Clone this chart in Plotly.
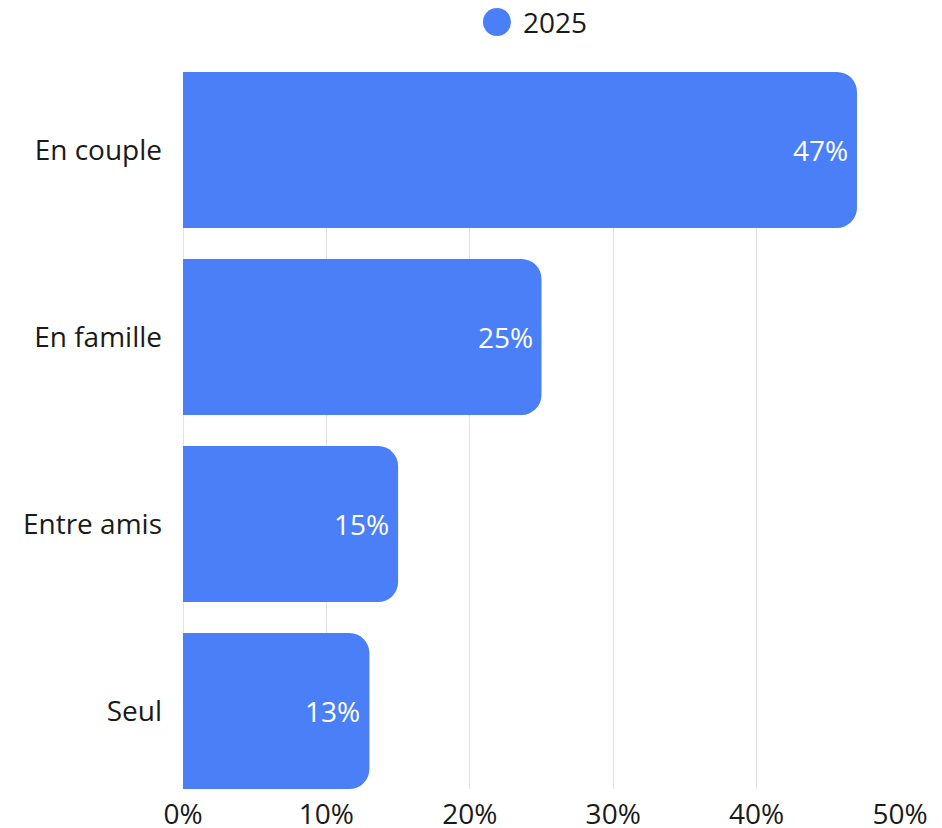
import plotly.graph_objects as go

categories = ["En couple", "En famille", "Entre amis", "Seul"]
values = [47, 25, 15, 13]
series_name = "2025"
tick_vals = [0, 10, 20, 30, 40, 50]
tick_text = ["0%", "10%", "20%", "30%", "40%", "50%"]

BAR_COLOR = "#4a7ff8"
FONT = "Open Sans"
FS = 28

fig = go.Figure()
fig.add_trace(go.Bar(
    x=values,
    y=categories,
    orientation="h",
    name=series_name,
    marker=dict(color=BAR_COLOR, cornerradius=20, line=dict(width=0)),
    showlegend=False,
))

# value labels, right-aligned just inside each bar end
for cat, v in zip(categories, values):
    fig.add_annotation(x=v, y=cat, xref="x", yref="y",
                       text=f"{v}%", showarrow=False,
                       xanchor="right", yanchor="middle", xshift=-7,
                       font=dict(color="white", size=FS, family=FONT))

# legend entry: round swatch and series name above the plot
fig.add_shape(type="circle", xref="paper", yref="paper",
              x0=(483 - 183) / 717, x1=(511 - 183) / 717,
              y0=1 + (72 - 36) / 717, y1=1 + (72 - 8) / 717,
              fillcolor=BAR_COLOR, line=dict(width=0))
fig.add_annotation(xref="paper", yref="paper",
                   x=(521 - 183) / 717, y=1 + (72 - 22) / 717,
                   text=series_name, showarrow=False,
                   xanchor="left", yanchor="middle",
                   font=dict(size=FS, color="#1a1a1a", family=FONT))

fig.update_layout(
    width=942, height=828,
    margin=dict(l=183, r=42, t=72, b=39),
    paper_bgcolor="white", plot_bgcolor="white",
    font=dict(family=FONT, size=FS, color="#1a1a1a"),
    bargap=0.166,
    xaxis=dict(range=[0, 50], tickvals=tick_vals, ticktext=tick_text,
               showgrid=True, gridcolor="#e2e2e2", gridwidth=1,
               zeroline=True, zerolinecolor="#e2e2e2", zerolinewidth=1,
               showline=False, ticks="", tickfont=dict(size=FS),
               automargin=False, ticklabelstandoff=6),
    yaxis=dict(categoryorder="array", categoryarray=categories,
               range=[3.417, -0.417], showgrid=False, zeroline=False,
               ticks="", ticklabelstandoff=20, tickfont=dict(size=FS),
               automargin=False),
)

fig.write_html("out.html")
